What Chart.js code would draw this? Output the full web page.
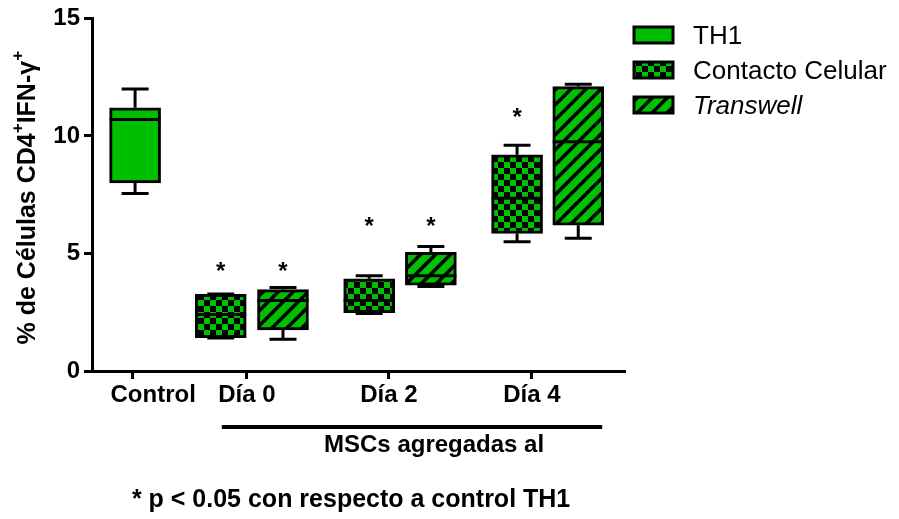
<!DOCTYPE html>
<html lang="es">

<head>
  <meta charset="UTF-8">
  <title>Chart</title>
  <style>
    html,
    body {
      margin: 0;
      padding: 0;
      background: #fff;
    }

    .wrap {
      width: 899px;
      height: 519px;
    }
  </style>
</head>

<body>
  <div class="wrap"><canvas id="myChart"></canvas></div>
  <script src="https://cdn.jsdelivr.net/npm/chart.js@4"></script>
  <script>
    const seriesNames = ['TH1', 'Contacto Celular', 'Transwell']
    const tickLabels = ['Control', 'Día 0', 'Día 2', 'Día 4']
    const tickPos = [0.77, 2.91, 5.58, 8.27]
    const labelPos = [1.15, 2.91, 5.58, 8.27]

    // where each box sits on the x axis
    const th1X = [0.81]
    const contactoX = [2.42, 5.21, 7.99]
    const transwellX = [3.59, 6.37, 9.14]

    // [min, q1, median, q3, max]
    const th1Stats = [[7.55, 8.0, 10.7, 11.2, 12.0]]
    const contactoStats = [[1.4, 1.42, 2.4, 3.26, 3.28], [2.45, 2.48, 3.0, 3.92, 4.05], [5.5, 5.85, 7.35, 9.2, 9.6]]
    const transwellStats = [[1.35, 1.75, 3.0, 3.46, 3.55], [3.6, 3.65, 4.05, 5.05, 5.3], [5.65, 6.2, 9.75, 12.1, 12.2]]

    // significance marks (* p < 0.05)
    const contactoStars = [4.35, 6.25, 10.9]
    const transwellStars = [4.35, 6.25, null]

    const bracketRange = [2.44, 9.59]
    const bracketText = 'MSCs agregadas al'
    const footText = '* p < 0.05 con respecto a control TH1'

    const GREEN = 'rgb(0,190,0)'
    const FONT = '"Liberation Sans", Arial, Helvetica, sans-serif'

    function checkerPattern(cell) {
      const c = document.createElement('canvas')
      c.width = c.height = cell * 2
      const g = c.getContext('2d')
      g.fillStyle = GREEN
      g.fillRect(0, 0, cell * 2, cell * 2)
      g.fillStyle = '#000'
      g.fillRect(0, 0, cell, cell)
      g.fillRect(cell, cell, cell, cell)
      return document.createElement('canvas').getContext('2d').createPattern(c, 'repeat')
    }

    function stripePattern(s, w) {
      const c = document.createElement('canvas')
      c.width = c.height = s
      const g = c.getContext('2d')
      g.fillStyle = GREEN
      g.fillRect(0, 0, s, s)
      g.strokeStyle = '#000'
      g.lineWidth = w
      g.beginPath()
      g.moveTo(0, s); g.lineTo(s, 0)
      g.moveTo(-s / 2, s / 2); g.lineTo(s / 2, -s / 2)
      g.moveTo(s / 2, s * 1.5); g.lineTo(s * 1.5, s / 2)
      g.stroke()
      return document.createElement('canvas').getContext('2d').createPattern(c, 'repeat')
    }

    const fills = [GREEN, checkerPattern(6), stripePattern(15, 3.5)]

    function boxData(xs, stats) {
      return xs.map((x, i) => ({ x: x, y: [stats[i][1], stats[i][3]] }))
    }

    const boxExtras = {
      id: 'boxExtras',
      afterDatasetsDraw(chart) {
        const ctx = chart.ctx
        const y = chart.scales.y
        const x = chart.scales.x
        const area = chart.chartArea
        ctx.save()
        ctx.strokeStyle = '#000'
        ctx.fillStyle = '#000'
        ctx.lineWidth = 3
        ctx.lineCap = 'butt'

        chart.data.datasets.forEach((ds, di) => {
          const meta = chart.getDatasetMeta(di)
          meta.data.forEach((el, i) => {
            const [mn, q1, med, q3, mx] = ds.stats[i]
            const half = el.width / 2
            const cap = 13.5
            ctx.beginPath()
            ctx.moveTo(el.x, y.getPixelForValue(q3)); ctx.lineTo(el.x, y.getPixelForValue(mx))
            ctx.moveTo(el.x - cap, y.getPixelForValue(mx)); ctx.lineTo(el.x + cap, y.getPixelForValue(mx))
            ctx.moveTo(el.x, y.getPixelForValue(q1)); ctx.lineTo(el.x, y.getPixelForValue(mn))
            ctx.moveTo(el.x - cap, y.getPixelForValue(mn)); ctx.lineTo(el.x + cap, y.getPixelForValue(mn))
            ctx.stroke()
            ctx.beginPath()
            ctx.moveTo(el.x - half, y.getPixelForValue(med)); ctx.lineTo(el.x + half, y.getPixelForValue(med))
            ctx.stroke()

            const star = ds.stars[i]
            if (star != null) {
              ctx.font = 'bold 24px ' + FONT
              ctx.textAlign = 'center'
              ctx.textBaseline = 'alphabetic'
              ctx.fillText('*', el.x, y.getPixelForValue(star) + 10)
            }
          })
        })

        // x labels
        ctx.font = 'bold 24px ' + FONT
        ctx.textAlign = 'center'
        ctx.textBaseline = 'alphabetic'
        tickLabels.forEach((t, i) => {
          ctx.fillText(t, x.getPixelForValue(labelPos[i]), area.bottom + 31)
        })

        // bracket under the MSC groups
        ctx.lineWidth = 4
        ctx.beginPath()
        ctx.moveTo(x.getPixelForValue(bracketRange[0]), area.bottom + 56)
        ctx.lineTo(x.getPixelForValue(bracketRange[1]), area.bottom + 56)
        ctx.stroke()
        ctx.fillText(bracketText, x.getPixelForValue(6.43), area.bottom + 81)
        ctx.font = 'bold 25px ' + FONT
        ctx.fillText(footText, x.getPixelForValue(4.87), area.bottom + 136)

        // y title with superscripts
        const parts = [['% de Células CD4', false], ['+', true], ['IFN-γ', false], ['+', true]]
        const big = 'bold 25px ' + FONT
        const small = 'bold 17px ' + FONT
        let total = 0
        parts.forEach(p => { ctx.font = p[1] ? small : big; total += ctx.measureText(p[0]).width })
        ctx.translate(35, (area.top + area.bottom) / 2 + 3)
        ctx.rotate(-Math.PI / 2)
        ctx.textAlign = 'left'
        let pos = -total / 2
        parts.forEach(p => {
          ctx.font = p[1] ? small : big
          ctx.fillText(p[0], pos, p[1] ? -12 : 0)
          pos += ctx.measureText(p[0]).width
        })
        ctx.restore()

        // legend
        ctx.save()
        chart.data.datasets.forEach((ds, di) => {
          const cy = 35 + di * 35
          ctx.fillStyle = ds.backgroundColor
          ctx.fillRect(634, cy - 8, 39, 16)
          ctx.strokeStyle = '#000'
          ctx.lineWidth = 3
          ctx.strokeRect(634, cy - 8, 39, 16)
          ctx.fillStyle = '#000'
          ctx.font = (di === 2 ? 'italic ' : '') + '26px ' + FONT
          ctx.textAlign = 'left'
          ctx.textBaseline = 'alphabetic'
          ctx.fillText(ds.label, 693, cy + 9)
        })
        ctx.restore()
      }
    }

    function drawChart() {
      const context = document.querySelector('#myChart').getContext('2d')
      const allX = [th1X, contactoX, transwellX]
      const allStats = [th1Stats, contactoStats, transwellStats]
      const allStars = [[null], contactoStars, transwellStars]

      new Chart(context, {
        type: 'bar',
        data: {
          datasets: seriesNames.map((name, i) => ({
            label: name,
            data: boxData(allX[i], allStats[i]),
            stats: allStats[i],
            stars: allStars[i],
            backgroundColor: fills[i],
            borderColor: '#000',
            borderWidth: 3,
            borderSkipped: false,
            barThickness: 51,
            grouped: false
          }))
        },
        options: {
          responsive: true,
          maintainAspectRatio: false,
          animation: false,
          layout: { padding: { left: 0, top: 17, right: 275, bottom: 0 } },
          plugins: { legend: { display: false }, tooltip: { enabled: false } },
          scales: {
            x: {
              type: 'linear',
              offset: false,
              min: 0,
              max: 10,
              afterBuildTicks: scale => { scale.ticks = tickPos.map(v => ({ value: v })) },
              afterFit: scale => { scale.height = 148 },
              ticks: { display: false },
              grid: { offset: false, drawOnChartArea: false, tickLength: 8, lineWidth: 3, color: '#000' },
              border: { width: 3, color: '#000' }
            },
            y: {
              min: 0,
              max: 15,
              afterFit: scale => { scale.width = 92 },
              ticks: {
                stepSize: 5,
                color: '#000',
                padding: 4,
                font: { family: FONT, size: 24, weight: 'bold' }
              },
              grid: { drawOnChartArea: false, tickLength: 8, lineWidth: 3, color: '#000' },
              border: { width: 3, color: '#000' }
            }
          }
        },
        plugins: [boxExtras]
      })
    }

    drawChart()
  </script>
</body>

</html>
